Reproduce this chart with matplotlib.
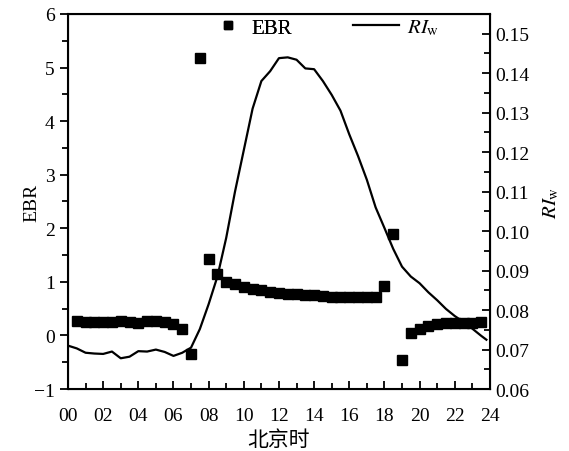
import numpy as np
from matplotlib import pyplot as plt
from matplotlib.ticker import MultipleLocator

# EBR, half-hourly
ebr_hours = [0.5, 1.0, 1.5, 2.0, 2.5, 3.0, 3.5, 4.0, 4.5, 5.0, 5.5, 6.0, 6.5, 7.0,
             7.5, 8.0, 8.5, 9.0, 9.5, 10.0, 10.5, 11.0, 11.5, 12.0, 12.5, 13.0,
             13.5, 14.0, 14.5, 15.0, 15.5, 16.0, 16.5, 17.0, 17.5, 18.0, 18.5,
             19.0, 19.5, 20.0, 20.5, 21.0, 21.5, 22.0, 22.5, 23.0, 23.5]
ebr = [0.27, 0.26, 0.26, 0.25, 0.26, 0.27, 0.26, 0.24, 0.27, 0.27, 0.26, 0.21, 0.12, -0.35,
       5.18, 1.43, 1.15, 1.00, 0.96, 0.90, 0.87, 0.84, 0.81, 0.79, 0.78, 0.77,
       0.76, 0.75, 0.74, 0.72, 0.72, 0.71, 0.71, 0.71, 0.72, 0.92, 1.89,
       -0.45, 0.04, 0.13, 0.18, 0.21, 0.24, 0.24, 0.24, 0.24, 0.26]

# RI_w line
ri_hours = [0.0, 0.5, 1.0, 1.5, 2.0, 2.5, 3.0, 3.5, 4.0, 4.5, 5.0, 5.5, 6.0, 6.5,
            7.0, 7.5, 8.0, 8.5, 9.0, 9.5, 10.0, 10.5, 11.0, 11.5, 12.0, 12.5,
            13.0, 13.5, 14.0, 14.5, 15.0, 15.5, 16.0, 16.5, 17.0, 17.5, 18.0,
            18.5, 19.0, 19.5, 20.0, 20.5, 21.0, 21.5, 22.0, 22.5, 23.0, 23.5, 23.8]
ri_w = [0.0710, 0.0703, 0.0692, 0.0690, 0.0689, 0.0695, 0.0678, 0.0682, 0.0696, 0.0695,
        0.0700, 0.0694, 0.0684, 0.0692, 0.0705, 0.0752, 0.0815, 0.0885, 0.0983, 0.1100,
        0.1205, 0.1310, 0.1380, 0.1405, 0.1438, 0.1440, 0.1434, 0.1412, 0.1410, 0.1380,
        0.1345, 0.1305, 0.1245, 0.1190, 0.1130, 0.1060, 0.1008, 0.0955, 0.0910, 0.0885,
        0.0868, 0.0845, 0.0825, 0.0803, 0.0785, 0.0770, 0.0753, 0.0735, 0.0725]

xtick_labels = ["00", "02", "04", "06", "08", "10", "12", "14", "16", "18", "20", "22", "24"]

plt.rcParams['font.family'] = ['Liberation Serif', 'Noto Sans CJK SC']
plt.rcParams['mathtext.fontset'] = 'stix'

fig = plt.figure(figsize=(5.69, 4.52), dpi=100)
ax = fig.add_axes([0.1195, 0.137, 0.7415, 0.830])
ax2 = ax.twinx()

pts, = ax.plot(ebr_hours, ebr, linestyle='none', marker='s', color='black',
               markersize=7, label='EBR', zorder=3)
line, = ax2.plot(ri_hours, ri_w, color='black', linewidth=1.6, label=r'$RI_{\rm w}$')

ax.set_xlim(0, 24)
ax.set_ylim(-1, 6)
ax2.set_ylim(0.06, 0.155)

ax.set_xticks(np.arange(0, 25, 2))
ax.set_xticklabels(xtick_labels)
ax.xaxis.set_minor_locator(MultipleLocator(1))
ax.yaxis.set_major_locator(MultipleLocator(1))
ax.yaxis.set_minor_locator(MultipleLocator(0.5))
ax2.set_yticks(np.arange(0.06, 0.1551, 0.01))
ax2.set_yticklabels(["%.2f" % v for v in np.arange(0.06, 0.1551, 0.01)])
ax2.yaxis.set_minor_locator(MultipleLocator(0.005))

ax.tick_params(axis='y', which='both', direction='out', labelsize=14, width=1.3)
ax.tick_params(axis='y', which='major', length=6)
ax.tick_params(axis='y', which='minor', length=4)
ax.tick_params(axis='x', which='both', direction='in', labelsize=14, width=1.3, top=False, pad=13)
ax.tick_params(axis='x', which='major', length=6)
ax.tick_params(axis='x', which='minor', length=4)
ax2.tick_params(axis='y', which='both', direction='in', labelsize=14, width=1.3)
ax2.tick_params(axis='y', which='major', length=6)
ax2.tick_params(axis='y', which='minor', length=4)

for sp in ax2.spines.values():
    sp.set_linewidth(1.5)

ax.set_ylabel('EBR', fontsize=14)
ax.yaxis.set_label_coords(-0.065, 0.5)
ax2.set_ylabel(r'$RI_{\rm w}$', fontsize=15, labelpad=9)
ax.set_xlabel('北京时', fontsize=15, labelpad=3, family=['Noto Sans CJK SC'])

leg1 = ax.legend(handles=[pts], loc='center left', bbox_to_anchor=(0.355, 0.963),
                 frameon=False, fontsize=15, handlelength=1.0, handletextpad=0.6,
                 borderpad=0, borderaxespad=0, markerscale=0.8)
ax.add_artist(leg1)
ax2.legend(handles=[line], loc='center left', bbox_to_anchor=(0.675, 0.963),
           frameon=False, fontsize=15, handlelength=2.2, handletextpad=0.4,
           borderpad=0, borderaxespad=0)

fig.savefig('out.png', dpi=100)
